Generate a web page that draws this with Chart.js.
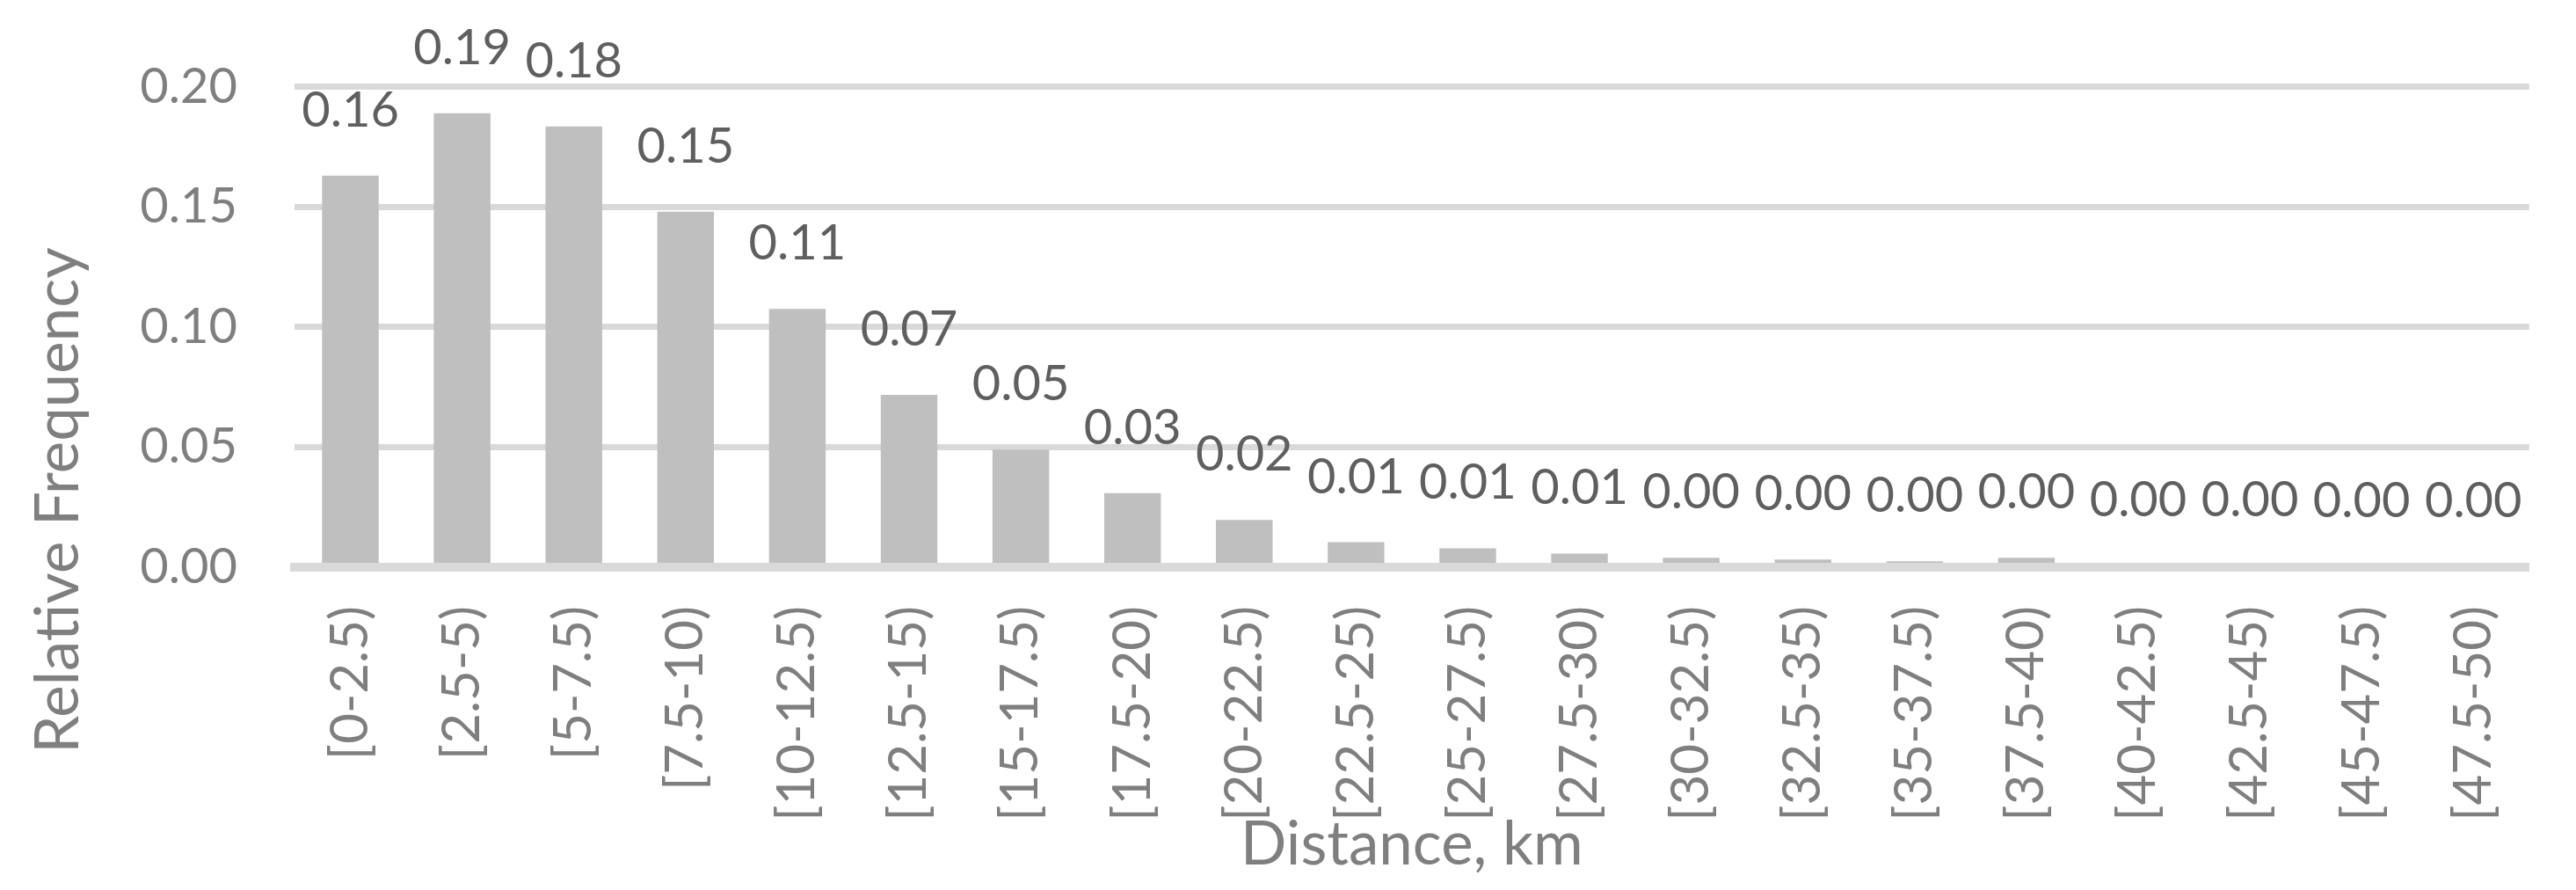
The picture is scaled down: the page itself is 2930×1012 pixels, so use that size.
<!DOCTYPE html>
<html>
<head>
<meta charset="utf-8">
<script src="https://cdn.jsdelivr.net/npm/chart.js@4.4.1/dist/chart.umd.min.js"></script>
<style>
  html, body { margin: 0; padding: 0; background: #ffffff; }
  #wrap { width: 2930px; height: 1012px; }
</style>
</head>
<body>
<div id="wrap"><canvas id="myChart" width="2930" height="1012"></canvas></div>
<script>
// distance bins (km)
const categories = ['[0-2.5)', '[2.5-5)', '[5-7.5)', '[7.5-10)', '[10-12.5)', '[12.5-15)', '[15-17.5)',
    '[17.5-20)', '[20-22.5)', '[22.5-25)', '[25-27.5)', '[27.5-30)', '[30-32.5)', '[32.5-35)',
    '[35-37.5)', '[37.5-40)', '[40-42.5)', '[42.5-45)', '[45-47.5)', '[47.5-50)'];

// relative frequency per bin
const relFreq = [0.163, 0.189, 0.1835, 0.148, 0.1075, 0.0717, 0.049, 0.0308, 0.0197, 0.0104,
    0.0079, 0.0057, 0.0039, 0.0032, 0.0025, 0.0039, 0.0008, 0.0006, 0.0004, 0.0003];

const yTicks = [0, 0.05, 0.10, 0.15, 0.20];

const yTitle = 'Relative Frequency';
const xTitle = 'Distance, km';

const fontFamily = 'Lato, "Open Sans", sans-serif';
const axisGrey = '#7f7f7f';
const labelGrey = '#5f5f5f';

// value labels above each bar
const valueLabels = {
    id: 'valueLabels',
    afterDatasetsDraw(chart) {
        const ctx = chart.ctx;
        const meta = chart.getDatasetMeta(0);
        ctx.save();
        ctx.font = '56px ' + fontFamily;
        ctx.fillStyle = labelGrey;
        ctx.textAlign = 'center';
        ctx.textBaseline = 'alphabetic';
        meta.data.forEach((bar, i) => {
            ctx.fillText(relFreq[i].toFixed(2), bar.x, bar.y - 56);
        });
        ctx.restore();
    }
};

// y axis title, sits lower than the plot centre like in the original
const yAxisTitle = {
    id: 'yAxisTitle',
    afterDraw(chart) {
        const ctx = chart.ctx;
        ctx.save();
        ctx.translate(89, 569);
        ctx.rotate(-Math.PI / 2);
        ctx.font = '69px ' + fontFamily;
        ctx.fillStyle = axisGrey;
        ctx.textAlign = 'center';
        ctx.textBaseline = 'alphabetic';
        ctx.fillText(yTitle, 0, 0);
        ctx.restore();
    }
};

const ctx = document.getElementById('myChart').getContext('2d');
const myChart = new Chart(ctx, {
    type: 'bar',
    data: {
        labels: categories,
        datasets: [{
            label: yTitle,
            data: relFreq,
            backgroundColor: '#bfbfbf',
            borderWidth: 0,
            barPercentage: 0.507,
            categoryPercentage: 1
        }]
    },
    options: {
        responsive: false,
        animation: false,
        devicePixelRatio: 1,
        layout: {
            padding: { top: 87, right: 30, bottom: 0, left: 0 }
        },
        plugins: {
            legend: { display: false },
            tooltip: { enabled: false }
        },
        scales: {
            x: {
                afterFit: (scale) => { scale.height = 367; },
                grid: { display: false, drawTicks: false },
                border: { display: true, color: '#d9d9d9', width: 10, z: 1 },
                ticks: {
                    autoSkip: false,
                    maxRotation: 90,
                    minRotation: 90,
                    padding: 44,
                    color: axisGrey,
                    font: { family: fontFamily, size: 60 }
                },
                title: {
                    display: true,
                    text: xTitle,
                    color: axisGrey,
                    font: { family: fontFamily, size: 69 },
                    padding: { top: 0, bottom: 10 }
                }
            },
            y: {
                min: 0,
                max: 0.2,
                afterFit: (scale) => { scale.width = 335; },
                afterBuildTicks: (scale) => {
                    scale.ticks = yTicks.map(v => ({ value: v }));
                },
                grid: {
                    drawTicks: false,
                    lineWidth: 7,
                    color: (c) => (c.tick && c.tick.value === 0) ? 'rgba(0,0,0,0)' : '#d9d9d9'
                },
                border: { display: false },
                ticks: {
                    padding: 65,
                    color: axisGrey,
                    font: { family: fontFamily, size: 56 },
                    callback: (v) => Number(v).toFixed(2)
                }
            }
        }
    },
    plugins: [valueLabels, yAxisTitle]
});
</script>
</body>
</html>
